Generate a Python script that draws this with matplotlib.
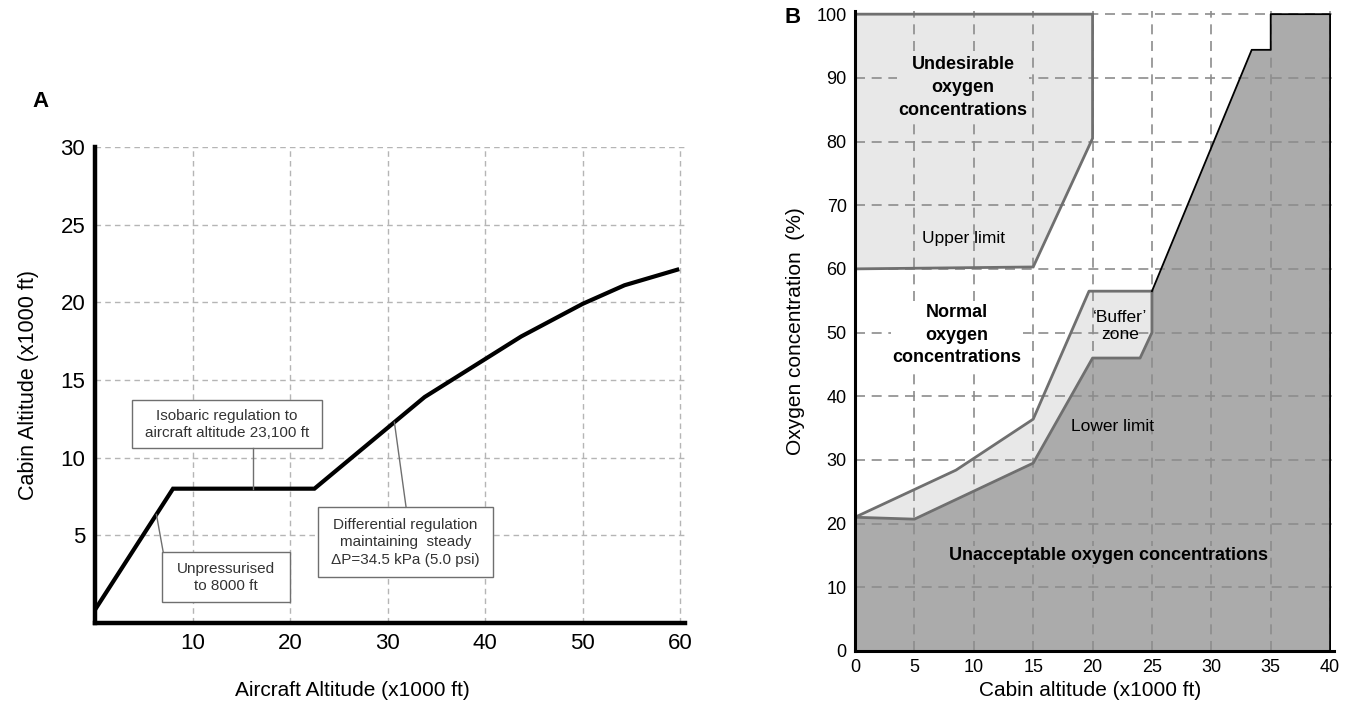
import numpy as np
import matplotlib
matplotlib.use("Agg")
import matplotlib.pyplot as plt
from matplotlib.patches import Polygon, Rectangle

plt.rcParams['font.family'] = ['Liberation Sans', 'DejaVu Sans']

# --- Panel A: cabin altitude schedule ---
aircraft_alt = [0, 8, 22.5, 33.8, 43.7, 50, 54.3, 59.7]
cabin_alt = [0.2, 8, 8, 13.9, 17.8, 19.9, 21.1, 22.1]
a_xticks = [10, 20, 30, 40, 50, 60]
a_yticks = [5, 10, 15, 20, 25, 30]

# --- Panel B: oxygen concentration limits ---
upper_x = [0, 20, 20, 15, 0]
upper_y = [100, 100, 80.5, 60.3, 60]
buffer_top_x = [0, 8.5, 15, 19.7, 25]
buffer_top_y = [21, 28.4, 36.4, 56.5, 56.5]
lower_x = [0, 5, 15, 20, 24, 25, 25]
lower_y = [21, 20.7, 29.5, 46, 46, 50, 56.5]
dark_edge_x = [25, 33.4, 35, 35, 40, 40]
dark_edge_y = [56.5, 94.4, 94.4, 100, 100, 0]
b_xticks = [0, 5, 10, 15, 20, 25, 30, 35, 40]
b_yticks = [0, 10, 20, 30, 40, 50, 60, 70, 80, 90, 100]

DARK = '#ababab'
LIGHT = '#e8e8e8'
EDGE = '#6f6f6f'

fig = plt.figure(figsize=(13.57, 7.13), dpi=100)

# ================= Panel A =================
axA = fig.add_axes([0.0700, 0.1262, 0.4348, 0.6676])
axA.set_xlim(0, 60.5)
axA.set_ylim(-0.65, 30)
axA.set_xticks(a_xticks)
axA.set_yticks(a_yticks)
axA.grid(True, color='#b5b5b5', linestyle=(0, (4, 3)), linewidth=1.0, zorder=0)
axA.set_axisbelow(True)
for s in ['top', 'right']:
    axA.spines[s].set_visible(False)
for s in ['left', 'bottom']:
    axA.spines[s].set_linewidth(3.2)
    axA.spines[s].set_color('black')
axA.tick_params(length=0, labelsize=16, pad=7)
axA.plot(aircraft_alt, cabin_alt, color='black', linewidth=3.0, solid_joinstyle='miter', zorder=3)

ann_style = dict(ha='center', va='center', fontsize=11, color='#333333', zorder=5, linespacing=1.3)

# isobaric box
axA.add_patch(Rectangle((3.8, 10.6), 19.5, 3.1, facecolor='white', edgecolor=EDGE, linewidth=1.0, zorder=4))
axA.text(13.55, 12.15, "Isobaric regulation to\naircraft altitude 23,100 ft", **ann_style)
axA.plot([16.2, 16.2], [10.6, 8.0], color=EDGE, linewidth=1.0, zorder=4)

# unpressurised box
axA.add_patch(Rectangle((6.9, 0.7), 13.1, 3.2, facecolor='white', edgecolor=EDGE, linewidth=1.0, zorder=4))
axA.text(13.45, 2.3, "Unpressurised\nto 8000 ft", **ann_style)
axA.plot([6.3, 7.0], [6.34, 3.9], color=EDGE, linewidth=1.0, zorder=4)

# differential box
axA.add_patch(Rectangle((22.9, 2.3), 17.9, 4.5, facecolor='white', edgecolor=EDGE, linewidth=1.0, zorder=4))
axA.text(31.85, 4.55, "Differential regulation\nmaintaining  steady\n\u0394P=34.5 kPa (5.0 psi)", **ann_style)
axA.plot([30.7, 31.9], [12.28, 6.8], color=EDGE, linewidth=1.0, zorder=4)

axA.set_xlabel("Aircraft Altitude (x1000 ft)", fontsize=15)
axA.set_ylabel("Cabin Altitude (x1000 ft)", fontsize=15.5)
axA.xaxis.set_label_coords(0.437, -0.122)
axA.yaxis.set_label_coords(-0.095, 0.5)

fig.text(0.0295, 0.857, "A", fontsize=16, fontweight='bold', ha='center', va='center')

# ================= Panel B =================
axB = fig.add_axes([0.6301, 0.0870, 0.3527, 0.8976])
axB.set_xlim(0, 40.3)
axB.set_ylim(0, 100.5)
axB.set_xticks(b_xticks)
axB.set_yticks(b_yticks)
for s in ['top', 'right']:
    axB.spines[s].set_visible(False)
for s in ['left', 'bottom']:
    axB.spines[s].set_linewidth(2.2)
    axB.spines[s].set_color('black')
    axB.spines[s].set_zorder(6)
axB.tick_params(length=0, labelsize=13, pad=6)

# fills
dark_pts = [(0, 0)] + list(zip(lower_x, lower_y)) + list(zip(dark_edge_x, dark_edge_y))
axB.add_patch(Polygon(dark_pts, closed=True, facecolor=DARK, edgecolor='none', zorder=1))
buffer_pts = list(zip(buffer_top_x, buffer_top_y)) + list(zip(lower_x, lower_y))[::-1]
axB.add_patch(Polygon(buffer_pts, closed=True, facecolor=LIGHT, edgecolor='none', zorder=1))
axB.add_patch(Polygon(list(zip(upper_x, upper_y)), closed=True, facecolor=LIGHT, edgecolor='none', zorder=1))

axB.grid(True, color='#8c8c8c', linestyle=(0, (6, 4)), linewidth=1.2, zorder=2)

# outlines
axB.add_patch(Polygon(list(zip(upper_x, upper_y)), closed=True, facecolor='none', edgecolor=EDGE, linewidth=2.0, zorder=3))
axB.plot(buffer_top_x, buffer_top_y, color=EDGE, linewidth=2.0, zorder=3)
axB.plot(lower_x, lower_y, color=EDGE, linewidth=2.0, zorder=3)
axB.plot(dark_edge_x, dark_edge_y, color='black', linewidth=1.3, zorder=3)

bold = dict(ha='center', va='center', fontsize=13, fontweight='bold', zorder=5, linespacing=1.45)
axB.text(9.1, 88.5, "Undesirable\noxygen\nconcentrations", bbox=dict(facecolor=LIGHT, edgecolor='none', pad=1), **bold)
axB.text(8.6, 49.6, "Normal\noxygen\nconcentrations", bbox=dict(facecolor='white', edgecolor='none', pad=1), **bold)
axB.text(21.3, 15.0, "Unacceptable oxygen concentrations", bbox=dict(facecolor=DARK, edgecolor='none', pad=1), **bold)

normal = dict(ha='center', va='center', fontsize=12.5, zorder=5, linespacing=1.2)
axB.text(9.1, 64.8, "Upper limit", **normal)
axB.text(22.3, 51.0, "\u2018Buffer\u2019\nzone", **normal)
axB.text(21.7, 35.3, "Lower limit", **normal)

axB.set_xlabel("Cabin altitude (x1000 ft)", fontsize=15)
axB.set_ylabel("Oxygen concentration  (%)", fontsize=15)
axB.xaxis.set_label_coords(0.491, -0.047)
axB.yaxis.set_label_coords(-0.104, 0.5)

fig.text(0.5844, 0.975, "B", fontsize=16, fontweight='bold', ha='center', va='center')

fig.savefig("out.png", dpi=100)
